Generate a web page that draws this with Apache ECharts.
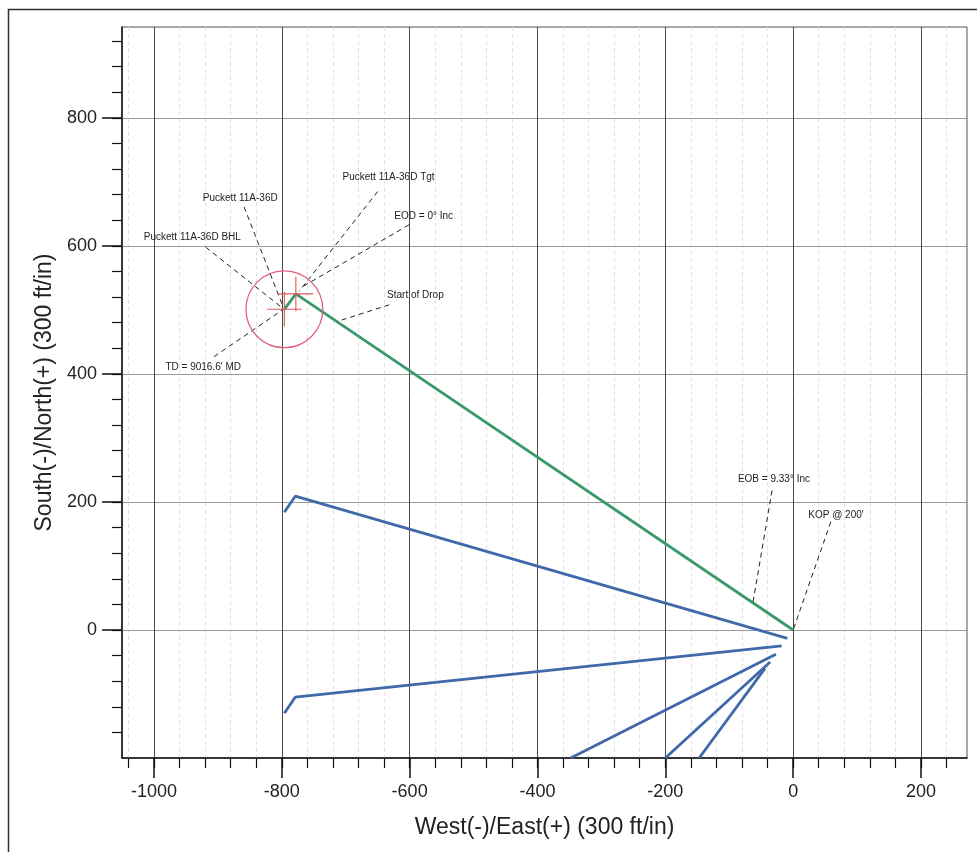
<!DOCTYPE html>
<html>
<head>
<meta charset="utf-8">
<script src="https://cdn.jsdelivr.net/npm/echarts@6/dist/echarts.min.js"></script>
<style>
html,body{margin:0;padding:0;background:#fff;}
#chart{width:977px;height:852px;}
</style>
</head>
<body>
<div id="chart"></div>
<script>
// ---- axis ticks ----
const xMajorTicks = [-1000, -800, -600, -400, -200, 0, 200];
const xMinorTicks = [-1040, -1000, -960, -920, -880, -840, -800, -760, -720, -680, -640, -600, -560, -520, -480, -440, -400, -360, -320, -280, -240, -200, -160, -120, -80, -40, 0, 40, 80, 120, 160, 200, 240];
const yMajorTicks = [0, 200, 400, 600, 800];
const yMinorTicks = [-160, -120, -80, -40, 0, 40, 80, 120, 160, 200, 240, 280, 320, 360, 400, 440, 480, 520, 560, 600, 640, 680, 720, 760, 800, 840, 880, 920];

// ---- well paths (West/East, South/North) ----
const planWell = [[0, 0], [-778, 525], [-796, 501]];
const offsetWell1 = [[-9, -13], [-779, 209], [-796, 184]];
const offsetWell2 = [[-18, -25], [-779, -105], [-796, -130]];
const offsetWell3 = [[-27, -38], [-348, -200]];
const offsetWell4 = [[-36, -50], [-200, -200]];
const offsetWell5 = [[-44, -60], [-147, -200]];

// ---- target ----
const targetCircle = [[-796, 501, 60]];
const targetCrosses = [[-778, 525, 27], [-796, 501, 27]];

// ---- annotations ----
const annoText = ["Puckett 11A-36D Tgt", "Puckett 11A-36D", "Puckett 11A-36D BHL", "EOD = 0\u00b0 Inc", "Start of Drop", "TD = 9016.6' MD", "EOB = 9.33\u00b0 Inc", "KOP @ 200'"];
const annoAt = [[-633, 708], [-865, 674], [-940, 613], [-578, 647], [-591, 523], [-923, 411], [-30, 235], [67, 180]];
const leaderFrom = [[-650, 685], [-859, 661], [-919, 598], [-601, 633], [-632, 508], [-906, 427], [-33, 218], [59, 169]];
const leaderTo = [[-773, 529], [-798, 505], [-799, 503], [-768, 536], [-713, 482], [-799, 500], [-63, 42], [0, 0]];

const FONT = 'Liberation Sans, Arial, sans-serif';
const blue = '#3f69a9';
const green = '#3a9a6a';

const chart = echarts.init(document.getElementById('chart'), null, {renderer: 'canvas'});

function blueLine(d) {
  return {type: 'line', data: d, xAxisIndex: 0, yAxisIndex: 0, symbol: 'none', z: 4,
    lineStyle: {color: blue, width: 2.8}, silent: true, animation: false};
}

const leaders = leaderFrom.map((p, i) => ({coords: [p, leaderTo[i]]}));
const plain = v => String(v);

const option = {
  animation: false,
  backgroundColor: '#fff',
  grid: {left: 122, right: 10, top: 27, bottom: 94, show: true, borderColor: '#555', borderWidth: 1, backgroundColor: 'transparent'},
  graphic: [{type: 'rect', left: 6, top: 7, shape: {width: 1000, height: 900}, style: {fill: 'none', stroke: '#333', lineWidth: 1.5}, silent: true}],
  xAxis: [
    {type: 'value', min: -1050, max: 272, position: 'bottom', gridIndex: 0,
      axisLine: {show: true, onZero: false, lineStyle: {color: '#111', width: 1.5}},
      axisTick: {show: true, customValues: xMajorTicks, length: 20, lineStyle: {color: '#111', width: 1.5}},
      axisLabel: {show: true, customValues: xMajorTicks, formatter: plain, margin: 25, fontSize: 18, fontFamily: FONT, color: '#222'},
      splitLine: {show: true, lineStyle: {color: '#4a4a4a', width: 1}},
      name: 'West(-)/East(+) (300 ft/in)', nameLocation: 'middle', nameGap: 58,
      nameTextStyle: {fontSize: 23, fontFamily: FONT, color: '#222'}, z: 3},
    {type: 'value', min: -1050, max: 272, position: 'bottom', gridIndex: 0,
      axisLine: {show: false, onZero: false},
      axisTick: {show: true, customValues: xMinorTicks, length: 10, lineStyle: {color: '#111', width: 1.2}},
      axisLabel: {show: false},
      splitLine: {show: true, lineStyle: {color: '#e2e2e2', width: 1, type: [4, 3]}}, z: 1}
  ],
  yAxis: [
    {type: 'value', min: -200, max: 942, position: 'left', gridIndex: 0,
      axisLine: {show: true, onZero: false, lineStyle: {color: '#111', width: 1.5}},
      axisTick: {show: true, customValues: yMajorTicks, length: 20, lineStyle: {color: '#111', width: 1.5}},
      axisLabel: {show: true, customValues: yMajorTicks, formatter: plain, margin: 25, fontSize: 18, fontFamily: FONT, color: '#222'},
      splitLine: {show: true, lineStyle: {color: '#9a9a9a', width: 1}},
      name: 'South(-)/North(+) (300 ft/in)', nameLocation: 'middle', nameGap: 62,
      nameTextStyle: {fontSize: 23, fontFamily: FONT, color: '#222'}, z: 3},
    {type: 'value', min: -200, max: 942, position: 'left', gridIndex: 0,
      axisLine: {show: false, onZero: false},
      axisTick: {show: true, customValues: yMinorTicks, length: 10, lineStyle: {color: '#111', width: 1.2}},
      axisLabel: {show: false},
      splitLine: {show: false}}
  ],
  series: [
    blueLine(offsetWell1), blueLine(offsetWell2), blueLine(offsetWell3), blueLine(offsetWell4), blueLine(offsetWell5),
    {type: 'line', data: planWell, symbol: 'none', z: 5, lineStyle: {color: green, width: 2.8}, silent: true},
    {type: 'lines', coordinateSystem: 'cartesian2d', data: leaders, z: 6, silent: true,
      lineStyle: {color: '#222', width: 1, type: [5, 4], opacity: 1}},
    {type: 'custom', data: targetCircle, encode: {x: 0, y: 1}, z: 7, silent: true,
      renderItem: function (params, api) {
        const c = api.coord([api.value(0), api.value(1)]);
        const r = api.size([api.value(2), api.value(2)]);
        return {type: 'circle', shape: {cx: c[0], cy: c[1], r: (r[0] + r[1]) / 2},
          style: {fill: 'none', stroke: '#e0607c', lineWidth: 1.3}};
      }},
    {type: 'custom', data: targetCrosses, encode: {x: 0, y: 1}, z: 7, silent: true,
      renderItem: function (params, api) {
        const x = api.value(0), y = api.value(1), a = api.value(2);
        const l = api.coord([x - a, y]), r = api.coord([x + a, y]);
        const t = api.coord([x, y + a]), b = api.coord([x, y - a]);
        const st = {stroke: '#e05858', lineWidth: 1.1};
        return {type: 'group', children: [
          {type: 'line', shape: {x1: l[0], y1: l[1], x2: r[0], y2: r[1]}, style: st},
          {type: 'line', shape: {x1: t[0], y1: t[1], x2: b[0], y2: b[1]}, style: st}
        ]};
      }},
    {type: 'custom', data: annoAt, encode: {x: 0, y: 1}, z: 8, silent: true,
      renderItem: function (params, api) {
        const c = api.coord([api.value(0), api.value(1)]);
        return {type: 'text', x: c[0], y: c[1],
          style: {text: annoText[params.dataIndex], textAlign: 'center', textVerticalAlign: 'middle',
            fontSize: 10, fontFamily: FONT, fill: '#222'}};
      }}
  ]
};
chart.setOption(option);
</script>
</body>
</html>
